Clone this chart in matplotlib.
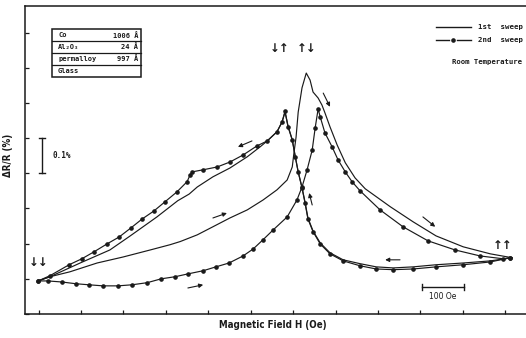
import matplotlib
matplotlib.use("Agg")
import matplotlib.pyplot as plt
from matplotlib.patches import Rectangle

# ---- data (H in Oe, dR/R in %) ----
s1_down_H = [516, 465, 401, 337, 283, 236, 196, 158, 118, 87, 64, 47, 35, 28, 21, 12, 5, -2, -12, -19,
             -26, -38, -61, -78, -108, -149, -189, -226, -245, -272, -321, -384, -432, -502, -573, -601]
s1_down_R = [0.060, 0.051, 0.045, 0.040, 0.034, 0.031, 0.034, 0.043, 0.054, 0.074, 0.102, 0.136, 0.173,
             0.219, 0.259, 0.304, 0.349, 0.395, 0.435, 0.474,
             0.446, 0.418, 0.392, 0.375, 0.347, 0.315, 0.290, 0.261, 0.241, 0.222, 0.176, 0.122, 0.082,
             0.045, 0.006, -0.006]

s2_down_H = [512, 465, 401, 337, 283, 236, 196, 158, 118, 87, 64, 47, 35, 28, 21, 12, 5, -2, -12, -19,
             -26, -38, -61, -85, -118, -149, -179, -212, -238, -243, -250, -274, -302, -328, -356, -382,
             -410, -439, -469, -498, -528, -573, -601]
s2_down_R = [0.060, 0.048, 0.040, 0.034, 0.028, 0.026, 0.028, 0.037, 0.051, 0.071, 0.099, 0.134, 0.170,
             0.216, 0.259, 0.304, 0.347, 0.395, 0.432, 0.477,
             0.446, 0.418, 0.392, 0.378, 0.352, 0.332, 0.318, 0.310, 0.304, 0.295, 0.276, 0.247, 0.219,
             0.193, 0.170, 0.145, 0.119, 0.099, 0.077, 0.057, 0.040, 0.009, -0.006]

s1_up_H = [-601, -573, -526, -462, -401, -337, -290, -266, -226, -189, -149, -108, -71, -38, -14, -2, 2, 7,
           12, 21, 31, 40, 47, 59, 68, 75, 87, 104, 123, 146, 170, 229, 283, 337, 401, 465, 516]
s1_up_R = [-0.006, 0.006, 0.020, 0.045, 0.062, 0.082, 0.097, 0.106, 0.125, 0.148, 0.173, 0.196, 0.224,
           0.253, 0.281, 0.318, 0.358, 0.403, 0.474, 0.543, 0.585, 0.565, 0.531, 0.514, 0.494, 0.472,
           0.432, 0.380, 0.330, 0.287, 0.256, 0.205, 0.162, 0.122, 0.091, 0.071, 0.060]

s2_up_H = [-601, -578, -545, -512, -481, -448, -413, -380, -344, -311, -278, -248, -212, -182, -151, -118,
           -94, -71, -47, -14, 9, 21, 33, 45, 52, 59, 64, 75, 92, 106, 123, 139, 158, 205, 259, 318, 382,
           441, 495, 512]
s2_up_R = [-0.006, -0.006, -0.009, -0.014, -0.017, -0.020, -0.020, -0.017, -0.011, 0.000, 0.006, 0.014,
           0.023, 0.034, 0.045, 0.065, 0.085, 0.111, 0.139, 0.176, 0.224, 0.261, 0.310, 0.366, 0.429,
           0.483, 0.460, 0.415, 0.375, 0.338, 0.304, 0.276, 0.250, 0.196, 0.148, 0.108, 0.082, 0.065,
           0.057, 0.060]

x_ticks = [-600, -500, -400, -300, -200, -100, 0, 100, 200, 300, 400, 500]
y_ticks = [-0.1, 0.0, 0.1, 0.2, 0.3, 0.4, 0.5, 0.6, 0.7]

layers = ["Co", "Al\u2082O\u2083", "permalloy", "Glass"]
thick = ["1006 \u00c5", "24 \u00c5", "997 \u00c5", ""]

spin_labels = ["\u2193\u2193", "\u2193\u2191", "\u2191\u2193", "\u2191\u2191"]
spin_H = [-601, -31, 31, 493]
spin_R = [0.045, 0.656, 0.656, 0.094]

# arrows (tail -> head)
arr_tail = [(-97, 0.392), (71, 0.528), (-189, 0.173), (-248, -0.026), (45, 0.210), (306, 0.176), (252, 0.054)]
arr_head = [(-130, 0.375), (87, 0.489), (-156, 0.187), (-212, -0.017), (38, 0.244), (335, 0.148), (217, 0.054)]

ink = "#1a1a1a"
mono = "DejaVu Sans Mono"

fig = plt.figure(figsize=(5.26, 3.38), dpi=100)
ax = fig.add_axes([25 / 526, 24 / 338, 501 / 526, 308 / 338])
ax.set_xlim(-632, 549)
ax.set_ylim(-0.0994, 0.7756)

lw = 0.85
ax.plot(s1_down_H, s1_down_R, color=ink, lw=lw)
ax.plot(s1_up_H, s1_up_R, color=ink, lw=lw)
ax.plot(s2_down_H, s2_down_R, color=ink, lw=lw, marker="o", ms=2.3, markevery=1)
ax.plot(s2_up_H, s2_up_R, color=ink, lw=lw, marker="o", ms=2.3, markevery=1)

ax.spines["right"].set_visible(False)
for sp in ["left", "bottom", "top"]:
    ax.spines[sp].set_linewidth(1.1)
    ax.spines[sp].set_color(ink)
ax.set_xticks(x_ticks)
ax.set_yticks(y_ticks)
ax.tick_params(direction="in", length=3, width=0.9, labelbottom=False, labelleft=False, colors=ink)

for lab, h, r in zip(spin_labels, spin_H, spin_R):
    ax.text(h, r, lab, ha="center", va="center", fontsize=8.5, color=ink, fontweight="bold")

for (t, hd) in zip(arr_tail, arr_head):
    ax.annotate("", xy=hd, xytext=t,
                arrowprops=dict(arrowstyle="-|>", lw=0.8, color=ink, mutation_scale=6, shrinkA=0, shrinkB=0))

# 0.1 % scale bar
ax.plot([-592, -592], [0.3, 0.4], color=ink, lw=1.0)
ax.plot([-600, -584], [0.4, 0.4], color=ink, lw=1.0)
ax.plot([-600, -584], [0.3, 0.3], color=ink, lw=1.0)
ax.text(-568, 0.352, "0.1%", fontsize=5.5, family=mono, fontweight="bold", va="center", ha="left", color=ink)

# 100 Oe scale bar
ax.plot([303, 403], [-0.023, -0.023], color=ink, lw=1.0)
ax.plot([303, 303], [-0.031, -0.015], color=ink, lw=1.0)
ax.plot([403, 403], [-0.031, -0.015], color=ink, lw=1.0)
ax.text(353, -0.051, "100 Oe", fontsize=5.5, ha="center", va="center", color=ink)

# layer table
x0, x1 = -568, -358
top, bot = 0.710, 0.574
rh = (top - bot) / 4
ax.add_patch(Rectangle((x0, bot), x1 - x0, top - bot, fill=False, lw=1.1, ec=ink))
for i in range(1, 4):
    ax.plot([x0, x1], [top - i * rh] * 2, color=ink, lw=0.9)
for i, (l, t) in enumerate(zip(layers, thick)):
    yc = top - (i + 0.5) * rh
    ax.text(x0 + 14, yc, l, fontsize=5, family=mono, fontweight="bold", va="center", ha="left", color=ink)
    if t:
        ax.text(x1 - 7, yc, t, fontsize=5, family=mono, fontweight="bold", va="center", ha="right", color=ink)

# legend (top right)
ax.plot([337, 420], [0.716, 0.716], color=ink, lw=1.0)
ax.plot([337, 368], [0.679, 0.679], color=ink, lw=1.0)
ax.plot([386, 420], [0.679, 0.679], color=ink, lw=1.0)
ax.plot([377], [0.679], color=ink, marker="o", ms=2.3)
ax.text(436, 0.716, "1st  sweep", fontsize=5.3, family=mono, fontweight="bold", va="center", ha="left", color=ink)
ax.text(436, 0.679, "2nd  sweep", fontsize=5.3, family=mono, fontweight="bold", va="center", ha="left", color=ink)
ax.text(374, 0.616, "Room Temperature", fontsize=5.2, family=mono, fontweight="bold", va="center", ha="left",
        color=ink, clip_on=False)

fig.text(273 / 526, 1 - 325 / 338, "Magnetic Field H (Oe)", ha="center", va="center", fontsize=7,
         fontweight="bold", fontstretch="condensed", color=ink)
fig.text(8 / 526, 1 - 155 / 338, "\u0394R/R (%)", ha="center", va="center", rotation=90, fontsize=7,
         fontweight="bold", fontstretch="condensed", color=ink)

fig.savefig("out.png", dpi=100)
